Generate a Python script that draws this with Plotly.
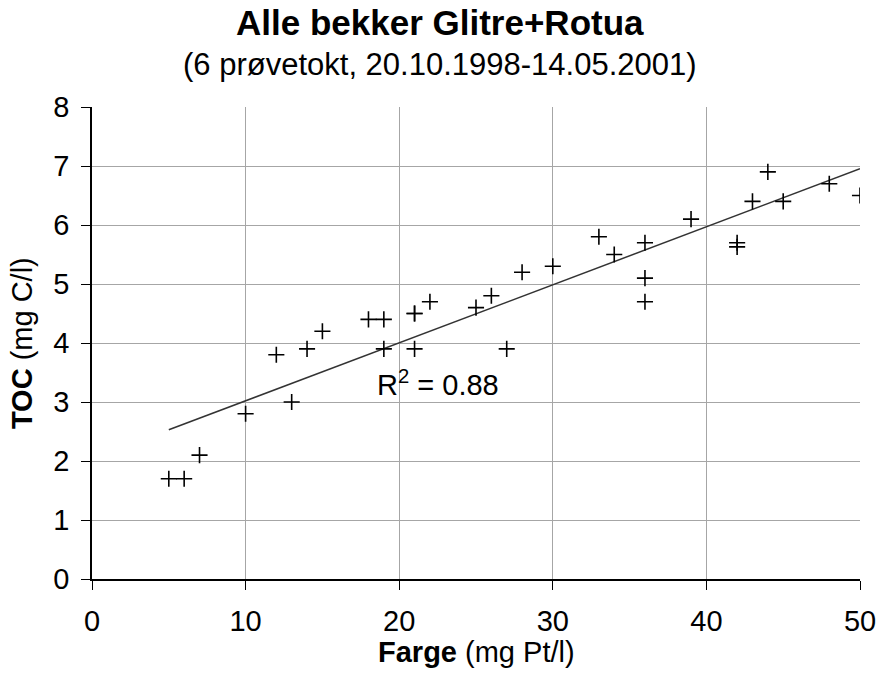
import numpy as np
import plotly.graph_objects as go

# Farge (colour, mg Pt/l) and TOC (mg C/l) for all streams, Glitre + Rotua
farge = [5, 6, 7, 10, 12, 13, 14, 15, 18, 19, 19, 21, 21, 21, 22, 25, 26, 27,
         28, 30, 33, 34, 36, 36, 36, 39, 42, 42, 43, 44, 45, 48, 50]
toc = [1.7, 1.7, 2.1, 2.8, 3.8, 3.0, 3.9, 4.2, 4.4, 4.4, 3.9, 4.5, 4.5, 3.9, 4.7, 4.6, 4.8, 3.9,
       5.2, 5.3, 5.8, 5.5, 5.7, 5.1, 4.7, 6.1, 5.7, 5.63, 6.4, 6.9, 6.4, 6.7, 6.5]

# coefficient of determination reported for the linear trend
r_squared = 0.88

x_ticks = [0, 10, 20, 30, 40, 50]
y_ticks = [0, 1, 2, 3, 4, 5, 6, 7, 8]

title = "Alle bekker Glitre+Rotua"
subtitle = "(6 prøvetokt, 20.10.1998-14.05.2001)"

# least-squares trend line over the observed colour range
x = np.array(farge, dtype=float)
y = np.array(toc, dtype=float)
slope, intercept = np.polyfit(x, y, 1)
x_line = np.array([x.min(), x.max()])
y_line = slope * x_line + intercept

FONT = "Liberation Sans, Arial, sans-serif"

fig = go.Figure()
fig.add_trace(go.Scatter(
    x=x_line, y=y_line, mode="lines",
    line=dict(color="#333333", width=1.5),
    hoverinfo="skip", showlegend=False,
))
fig.add_trace(go.Scatter(
    x=farge, y=toc, mode="markers",
    marker=dict(symbol="cross-thin", size=11.5, color="black",
                line=dict(color="black", width=1.6)),
    showlegend=False,
))

fig.update_layout(
    width=877, height=675,
    margin=dict(l=92, r=17, t=107, b=96, autoexpand=False),
    paper_bgcolor="white", plot_bgcolor="white",
    font=dict(family=FONT, color="black"),
    showlegend=False,
)
fig.update_xaxes(
    range=[0, 50], tickvals=x_ticks, ticktext=[str(v) for v in x_ticks],
    showgrid=True, gridcolor="#a6a6a6", gridwidth=1.3,
    showline=True, linecolor="black", linewidth=1.5,
    ticks="outside", ticklen=9, tickcolor="black", tickwidth=1.3,
    ticklabelstandoff=6, automargin=False,
    tickfont=dict(size=29, family=FONT, color="black"),
    zeroline=False,
)
fig.update_yaxes(
    range=[0, 8], tickvals=y_ticks, ticktext=[str(v) for v in y_ticks],
    showgrid=True, gridcolor="#a6a6a6", gridwidth=1.3,
    showline=True, linecolor="black", linewidth=1.5,
    ticks="outside", ticklen=9, tickcolor="black", tickwidth=1.3,
    ticklabelstandoff=6, automargin=False,
    tickfont=dict(size=29, family=FONT, color="black"),
    zeroline=False,
)

annotations = [
    dict(text=f"<b>{title}</b>", x=0.453, y=1.180, xref="paper", yref="paper",
         xanchor="center", yanchor="middle", showarrow=False,
         font=dict(size=35, family=FONT, color="black")),
    dict(text=subtitle, x=0.453, y=1.091, xref="paper", yref="paper",
         xanchor="center", yanchor="middle", showarrow=False,
         font=dict(size=31, family=FONT, color="black")),
    dict(text="<b>Farge</b> (mg Pt/l)", x=0.5, y=-0.1557, xref="paper", yref="paper",
         xanchor="center", yanchor="middle", showarrow=False,
         font=dict(size=29, family=FONT, color="black")),
    dict(text="<b>TOC</b> (mg C/l)", x=-0.091, y=0.5, xref="paper", yref="paper",
         xanchor="center", yanchor="middle", showarrow=False, textangle=-90,
         font=dict(size=29, family=FONT, color="black")),
    dict(text=f"R<sup>2</sup> = {r_squared:.2f}", x=18.4, y=3.32, xref="x", yref="y",
         xanchor="left", yanchor="middle", showarrow=False,
         font=dict(size=29, family=FONT, color="black")),
]
fig.update_layout(annotations=annotations)

fig.write_html("out.html")
